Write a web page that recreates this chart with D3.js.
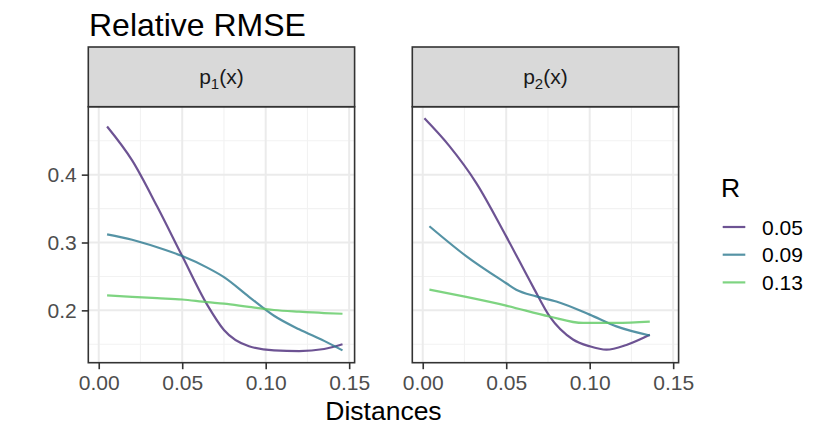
<!DOCTYPE html>
<html>
<head>
<meta charset="utf-8">
<script src="https://d3js.org/d3.v7.min.js"></script>
<style>
  body { margin: 0; background: #fff; }
  text { font-family: "Liberation Sans", Arial, sans-serif; }
</style>
</head>
<body>
<svg id="chart" width="830" height="442"></svg>
<script>
// facet panels and colour levels
var panelNames = ["p1", "p2"];
var panelSubs = ["1", "2"];
var rLevels = ["0.05", "0.09", "0.13"];
var rColors = ["#482878", "#2A788E", "#5EC962"];

// p1(x) panel
var p1_x_005 = [0.005, 0.02, 0.035, 0.05, 0.065, 0.075, 0.09, 0.105, 0.12, 0.135, 0.146];
var p1_y_005 = [0.471, 0.421, 0.353, 0.280, 0.208, 0.171, 0.147, 0.141, 0.140, 0.143, 0.150];
var p1_x_009 = [0.005, 0.02, 0.035, 0.05, 0.065, 0.075, 0.09, 0.105, 0.12, 0.135, 0.146];
var p1_y_009 = [0.312, 0.304, 0.293, 0.280, 0.263, 0.249, 0.220, 0.192, 0.172, 0.155, 0.141];
var p1_x_013 = [0.005, 0.02, 0.035, 0.05, 0.065, 0.075, 0.09, 0.105, 0.12, 0.135, 0.146];
var p1_y_013 = [0.222, 0.220, 0.218, 0.216, 0.212, 0.210, 0.205, 0.2005, 0.198, 0.196, 0.195];

// p2(x) panel
var p2_x_005 = [0.001, 0.016, 0.032, 0.05, 0.066, 0.076, 0.09, 0.10, 0.11, 0.122, 0.136];
var p2_y_005 = [0.483, 0.442, 0.388, 0.309, 0.235, 0.191, 0.157, 0.147, 0.142, 0.149, 0.164];
var p2_x_009 = [0.004, 0.026, 0.05, 0.056, 0.068, 0.08, 0.10, 0.116, 0.136];
var p2_y_009 = [0.324, 0.280, 0.240, 0.2305, 0.2206, 0.213, 0.1937, 0.1764, 0.163];
var p2_x_013 = [0.004, 0.026, 0.05, 0.076, 0.096, 0.116, 0.136];
var p2_y_013 = [0.2305, 0.2198, 0.207, 0.191, 0.1814, 0.1814, 0.1833];

var xTicks = [0, 0.05, 0.10, 0.15];
var xMinor = [0.025, 0.075, 0.125];
var yTicks = [0.2, 0.3, 0.4];
var yMinor = [0.15, 0.25, 0.35, 0.45];

var seriesX = [[p1_x_005, p1_x_009, p1_x_013], [p2_x_005, p2_x_009, p2_x_013]];
var seriesY = [[p1_y_005, p1_y_009, p1_y_013], [p2_y_005, p2_y_009, p2_y_013]];

var svg = d3.select("#chart");

// layout
var panelLeft = [88.3, 412.3];
var panelW = 266.3;
var stripTop = 47, panelTop = 106.7, panelBottom = 362.7;

// shared scales with 5% expansion like ggplot
var allX = d3.merge(d3.merge(seriesX));
var allY = d3.merge(d3.merge(seriesY));
var xe = d3.extent(allX), ye = d3.extent(allY);
var xPad = (xe[1] - xe[0]) * 0.05, yPad = (ye[1] - ye[0]) * 0.05;

var y = d3.scaleLinear().domain([ye[0] - yPad, ye[1] + yPad]).range([panelBottom, panelTop]);

svg.append("text")
    .attr("x", 89).attr("y", 36)
    .attr("font-size", 32)
    .attr("fill", "#000")
    .text("Relative RMSE");

panelNames.forEach(function(p, pi) {
    var x = d3.scaleLinear().domain([xe[0] - xPad, xe[1] + xPad])
        .range([panelLeft[pi], panelLeft[pi] + panelW]);
    var g = svg.append("g");

    // grid
    g.selectAll(".xmin").data(xMinor).enter().append("line")
        .attr("x1", function(d) { return x(d) }).attr("x2", function(d) { return x(d) })
        .attr("y1", panelTop).attr("y2", panelBottom)
        .attr("stroke", "#F2F2F2").attr("stroke-width", 1.1);
    g.selectAll(".ymin").data(yMinor).enter().append("line")
        .attr("y1", function(d) { return y(d) }).attr("y2", function(d) { return y(d) })
        .attr("x1", panelLeft[pi]).attr("x2", panelLeft[pi] + panelW)
        .attr("stroke", "#F2F2F2").attr("stroke-width", 1.1);
    g.selectAll(".xmaj").data(xTicks).enter().append("line")
        .attr("x1", function(d) { return x(d) }).attr("x2", function(d) { return x(d) })
        .attr("y1", panelTop).attr("y2", panelBottom)
        .attr("stroke", "#EBEBEB").attr("stroke-width", 2);
    g.selectAll(".ymaj").data(yTicks).enter().append("line")
        .attr("y1", function(d) { return y(d) }).attr("y2", function(d) { return y(d) })
        .attr("x1", panelLeft[pi]).attr("x2", panelLeft[pi] + panelW)
        .attr("stroke", "#EBEBEB").attr("stroke-width", 2);

    // lines
    var line = d3.line()
        .x(function(d) { return x(d[0]) })
        .y(function(d) { return y(d[1]) })
        .curve(d3.curveMonotoneX);
    rLevels.forEach(function(r, ri) {
        var pts = d3.zip(seriesX[pi][ri], seriesY[pi][ri]);
        g.append("path")
            .attr("d", line(pts))
            .attr("fill", "none")
            .attr("stroke", rColors[ri])
            .attr("stroke-opacity", 0.8)
            .attr("stroke-width", 2.2);
    });

    // panel border
    g.append("rect")
        .attr("x", panelLeft[pi]).attr("y", panelTop)
        .attr("width", panelW).attr("height", panelBottom - panelTop)
        .attr("fill", "none").attr("stroke", "#333333").attr("stroke-width", 1.6);

    // strip
    g.append("rect")
        .attr("x", panelLeft[pi]).attr("y", stripTop)
        .attr("width", panelW).attr("height", panelTop - stripTop)
        .attr("fill", "#D9D9D9").attr("stroke", "#333333").attr("stroke-width", 1.6);
    var st = g.append("text")
        .attr("x", panelLeft[pi] + panelW / 2).attr("y", 84)
        .attr("text-anchor", "middle")
        .attr("font-size", 21)
        .attr("fill", "#1A1A1A");
    st.append("tspan").text("p");
    st.append("tspan").attr("font-size", 15).attr("dy", 5).text(panelSubs[pi]);
    st.append("tspan").attr("dy", -5).text("(x)");

    // x axis
    var xa = g.append("g").attr("transform", "translate(0," + panelBottom + ")")
        .call(d3.axisBottom(x).tickValues(xTicks).tickSize(6.5).tickPadding(6)
            .tickFormat(d3.format(".2f")));
    xa.select(".domain").remove();
    xa.selectAll("line").attr("stroke", "#333333").attr("stroke-width", 1.6);
    xa.selectAll("text").attr("font-size", 21).attr("fill", "#4D4D4D")
        .attr("font-family", "Liberation Sans, Arial, sans-serif");

    if (pi === 0) {
        var ya = g.append("g").attr("transform", "translate(" + panelLeft[pi] + ",0)")
            .call(d3.axisLeft(y).tickValues(yTicks).tickSize(6.5).tickPadding(5)
                .tickFormat(d3.format(".1f")));
        ya.select(".domain").remove();
        ya.selectAll("line").attr("stroke", "#333333").attr("stroke-width", 1.6);
        ya.selectAll("text").attr("font-size", 21).attr("fill", "#4D4D4D")
            .attr("font-family", "Liberation Sans, Arial, sans-serif");
    }
});

svg.append("text")
    .attr("x", (panelLeft[0] + panelLeft[1] + panelW) / 2).attr("y", 420)
    .attr("text-anchor", "middle")
    .attr("font-size", 26.5)
    .attr("fill", "#000")
    .text("Distances");

// legend
var legend = svg.append("g");
legend.append("text")
    .attr("x", 721).attr("y", 197)
    .attr("font-size", 26.5)
    .text("R");
var keys = legend.selectAll(".key").data(rLevels).enter().append("g")
    .attr("transform", function(d, i) { return "translate(0," + (227 + i * 27.7) + ")" });
keys.append("line")
    .attr("x1", 722.7).attr("x2", 745.3)
    .attr("stroke", function(d, i) { return rColors[i] })
    .attr("stroke-opacity", 0.8)
    .attr("stroke-width", 2.2);
keys.append("text")
    .attr("x", 762).attr("y", 7.5)
    .attr("font-size", 21)
    .attr("fill", "#000")
    .text(function(d) { return d });
</script>
</body>
</html>
